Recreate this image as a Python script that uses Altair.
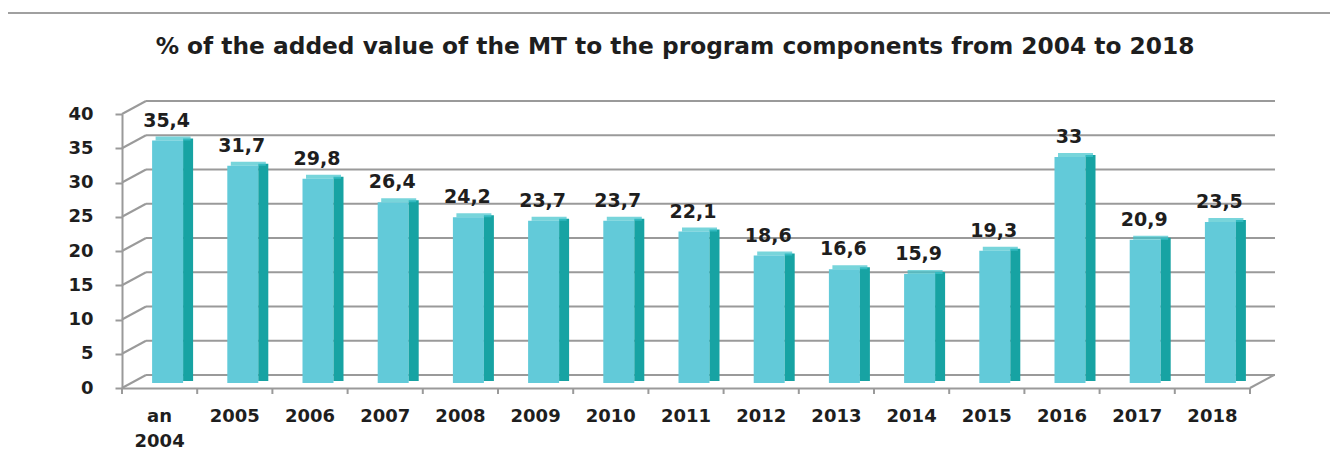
import altair as alt
import pandas as pd

categories = ["an\n2004", "2005", "2006", "2007", "2008", "2009", "2010", "2011",
              "2012", "2013", "2014", "2015", "2016", "2017", "2018"]
values = [35.4, 31.7, 29.8, 26.4, 24.2, 23.7, 23.7, 22.1, 18.6, 16.6, 15.9, 19.3, 33, 20.9, 23.5]
value_labels = ["35,4", "31,7", "29,8", "26,4", "24,2", "23,7", "23,7", "22,1",
                "18,6", "16,6", "15,9", "19,3", "33", "20,9", "23,5"]
y_ticks = [0, 5, 10, 15, 20, 25, 30, 35, 40]
title_text = "% of the added value of the MT to the program components from 2004 to 2018"

W, H = 1128, 274
DX, DY = 24, -13  # 3D depth offset of the back wall
FONT = "DejaVu Sans"
FRONT = "#62CAD9"
SIDE = "#17A3A3"
TOP = "#3FC3CC"
GRID = "#9a9a9a"
TXT = "#1e1e1e"

df = pd.DataFrame({"cat": categories, "value": values, "label": value_labels})
grid_df = pd.DataFrame({"value": y_ticks})
one = pd.DataFrame({"a": [0]})

xs = alt.Scale(domain=categories, paddingInner=0, paddingOuter=0)
ys = alt.Scale(domain=[0, 40], nice=False, zero=True)

x_axis = alt.Axis(title=None, labelAngle=0, ticks=False, domainColor=GRID, domainWidth=2,
                  labelFont=FONT, labelFontSize=18, labelFontWeight="bold", labelColor=TXT,
                  labelPadding=19, labelLineHeight=25, labelBaseline="top",
                  labelOverlap=False, labelExpr="split(datum.label, '\\n')")
y_axis = alt.Axis(title=None, values=y_ticks, tickCount=9, grid=False, tickSize=7,
                  tickColor=GRID, tickWidth=2, domainColor=GRID, domainWidth=2,
                  labelFont=FONT, labelFontSize=18, labelFontWeight="bold", labelColor=TXT,
                  labelPadding=22, labelOverlap=False)

def Y(field="value:Q"):
    return alt.Y(field, scale=ys, axis=y_axis)

def X(**kw):
    return alt.X("cat:N", scale=xs, axis=x_axis, **kw)

# back wall gridlines
grid = alt.Chart(grid_df).mark_rule(color=GRID, strokeWidth=2, yOffset=DY).encode(
    x=alt.value(DX), x2=alt.value(W + DX + 1), y=Y())
diag = alt.Chart(grid_df).mark_rule(color=GRID, strokeWidth=2, y2Offset=DY).encode(
    x=alt.value(0), x2=alt.value(DX), y=Y(), y2="value:Q")
floor_r = alt.Chart(one).mark_rule(color=GRID, strokeWidth=2).encode(
    x=alt.value(W), x2=alt.value(W + DX), y=alt.value(H), y2=alt.value(H + DY))

# front x ticks at category boundaries
xticks = alt.Chart(df).mark_rule(color=GRID, strokeWidth=2).encode(
    x=X(bandPosition=0), y=alt.value(H), y2=alt.value(H + 6))
xtick_end = alt.Chart(one).mark_rule(color=GRID, strokeWidth=2).encode(
    x=alt.value(W), y=alt.value(H), y2=alt.value(H + 6))

base = alt.Chart(df).encode(x=X())

front = base.mark_bar(color=FRONT, width=31, xOffset=8, yOffset=-5, y2Offset=-5).encode(y=Y())
side = base.mark_bar(color=SIDE, width=10, xOffset=28.5, yOffset=-7, y2Offset=-8).encode(y=Y())
top = base.mark_tick(color=TOP, orient="horizontal", size=35, thickness=4, xOffset=13.5,
                     yOffset=-7).encode(y=Y())
labels = base.mark_text(font=FONT, fontSize=19, fontWeight="bold", color=TXT,
                        baseline="alphabetic", xOffset=7, yOffset=-19).encode(
    y=Y(), text="label:N")

title = alt.Chart(one).mark_text(text=title_text, font=FONT, fontSize=23.3, fontWeight="bold",
                                 color=TXT, baseline="middle", align="center").encode(
    x=alt.value(553), y=alt.value(-67))
frame_top = alt.Chart(one).mark_rule(color="#a0a0a0", strokeWidth=2).encode(
    x=alt.value(-115), x2=alt.value(1230), y=alt.value(-101))
frame_left = alt.Chart(one).mark_rule(color="#a0a0a0", strokeWidth=2).encode(
    x=alt.value(-115), y=alt.value(-101), y2=alt.value(360))

chart = alt.layer(
    grid, diag, floor_r, xticks, xtick_end, frame_top, frame_left,
    front, side, top, labels, title
).properties(
    width=W, height=H, autosize="none",
    padding={"left": 114, "top": 106, "right": 80, "bottom": 75},
    view=alt.ViewBackground(strokeWidth=0, strokeOpacity=0, fill="white")
).configure_view(stroke="transparent", strokeWidth=0, strokeOpacity=0).configure(background="white")

chart.save("out.html", embed_options={"renderer": "svg", "actions": False})
